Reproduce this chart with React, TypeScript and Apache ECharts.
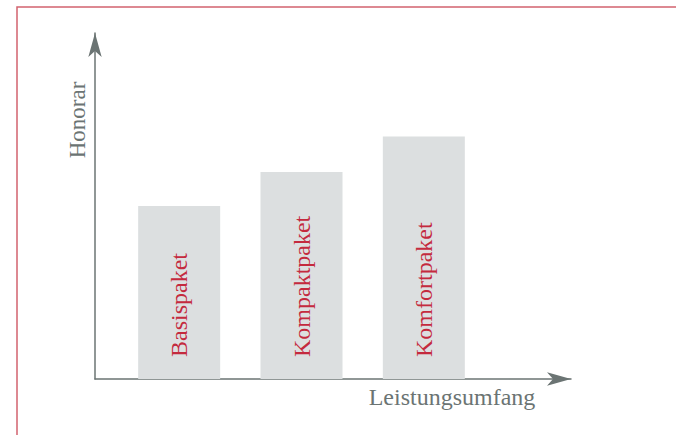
import React, { useEffect, useRef } from "react";
import * as echarts from "echarts";

const categories = ["Basispaket", "Kompaktpaket", "Komfortpaket"];
const honorarValues = [51.8, 62.0, 72.6];
const yAxisName = "Honorar";
const xAxisName = "Leistungsumfang";

const AXIS_COLOR = "#6b7473";
const LABEL_COLOR = "#c42a3e";
const BAR_COLOR = "#dcdfe0";
const FRAME_COLOR = "#d2636f";
const FONT = "'Liberation Serif', 'Times New Roman', serif";

export default function App() {
  const ref = useRef<HTMLDivElement>(null);
  useEffect(() => {
    if (!ref.current) return;
    const chart = echarts.init(ref.current, undefined, { renderer: "svg" });
    chart.setOption({
      animation: false,
      backgroundColor: "#ffffff",
      grid: [
        { left: 95, right: 105, top: 33, bottom: 56 },
        { left: 118, right: 191, top: 45, bottom: 56 },
      ],
      xAxis: [
        {
          gridIndex: 0,
          type: "value",
          min: 0,
          max: 1,
          axisLine: {
            show: true,
            symbol: ["none", "arrow"],
            symbolSize: [10, 24],
            lineStyle: { color: AXIS_COLOR, width: 1.5 },
          },
          axisTick: { show: false },
          axisLabel: { show: false },
          splitLine: { show: false },
        },
        {
          gridIndex: 1,
          type: "category",
          data: categories,
          show: false,
        },
      ],
      yAxis: [
        {
          gridIndex: 0,
          type: "value",
          min: 0,
          max: 1,
          axisLine: {
            show: true,
            symbol: ["none", "arrow"],
            symbolSize: [10, 24],
            lineStyle: { color: AXIS_COLOR, width: 1.5 },
          },
          axisTick: { show: false },
          axisLabel: { show: false },
          splitLine: { show: false },
        },
        {
          gridIndex: 1,
          type: "value",
          min: 0,
          max: 100,
          show: false,
        },
      ],
      series: [
        {
          type: "bar",
          xAxisIndex: 1,
          yAxisIndex: 1,
          data: honorarValues,
          barWidth: 82,
          itemStyle: { color: BAR_COLOR },
          label: {
            show: true,
            formatter: (p: any) => categories[p.dataIndex],
            position: "insideBottom",
            distance: 22,
            rotate: 90,
            align: "left",
            verticalAlign: "middle",
            color: LABEL_COLOR,
            fontFamily: FONT,
            fontSize: 24,
          },
          z: 1,
        },
      ],
      graphic: [
        {
          type: "rect",
          shape: { x: 17, y: 7, width: 720, height: 500 },
          style: { fill: "none", stroke: FRAME_COLOR, lineWidth: 1.5 },
          silent: true,
        },
        {
          type: "text",
          x: 77,
          y: 120,
          rotation: Math.PI / 2,
          style: {
            text: yAxisName,
            fill: AXIS_COLOR,
            font: `23px ${FONT}`,
            textAlign: "center",
            textVerticalAlign: "middle",
          },
        },
        {
          type: "text",
          x: 452,
          y: 397,
          style: {
            text: xAxisName,
            fill: AXIS_COLOR,
            font: `24px ${FONT}`,
            textAlign: "center",
            textVerticalAlign: "middle",
          },
        },
      ],
    });
    return () => chart.dispose();
  }, []);
  return (
    <div
      ref={ref}
      style={{ position: "absolute", left: 0, top: 0, width: 676, height: 435 }}
    />
  );
}
